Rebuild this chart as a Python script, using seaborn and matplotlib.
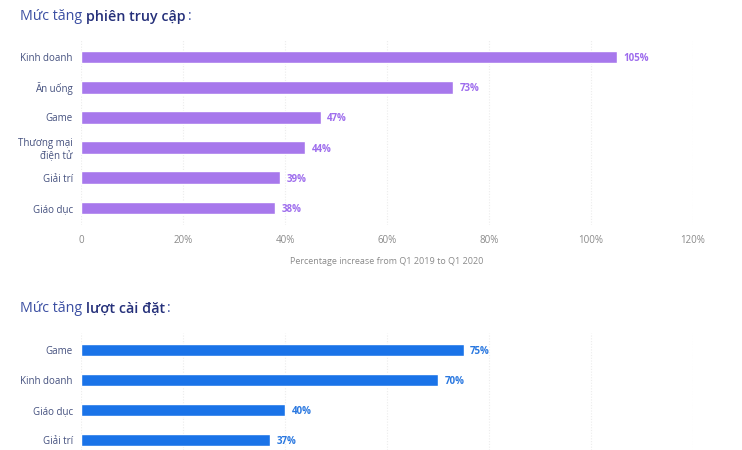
import matplotlib
matplotlib.use("Agg")
import matplotlib.pyplot as plt
import seaborn as sns
import pandas as pd

sns.set_style("white")
plt.rcParams['font.family'] = ['Open Sans', 'DejaVu Sans']

# Data
sessions_categories = ["Kinh doanh", "Ăn uống", "Game", "Thương mại\nđiện tử", "Giải trí", "Giáo dục"]
sessions_values = [105, 73, 47, 44, 39, 38]
installs_categories = ["Game", "Kinh doanh", "Giáo dục", "Giải trí"]
installs_values = [75, 70, 40, 37]
x_ticks = [0, 20, 40, 60, 80, 100, 120]
x_tick_labels = ["0", "20%", "40%", "60%", "80%", "100%", "120%"]
x_label = "Percentage increase from Q1 2019 to Q1 2020"
title1_a, title1_b = "Mức tăng", "phiên truy cập"
title2_a, title2_b = "Mức tăng", "lượt cài đặt"

PURPLE = "#a778ec"
PURPLE_TXT = "#9e6ded"
BLUE = "#1a73e8"
BLUE_TXT = "#2a78e0"
TITLE_C = "#3a4ea2"
TITLE_B = "#25307a"
YLAB_C = "#44507e"
XLAB_C = "#8a8a8a"

W, H = 742, 450
fig = plt.figure(figsize=(W / 100, H / 100), dpi=100)

def px_axes(left, top, right, bottom):
    return fig.add_axes([left / W, 1 - bottom / H, (right - left) / W, (bottom - top) / H])

ax1 = px_axes(81, 40, 693, 225)
ax2 = px_axes(81, 333, 693, 450)

def draw(ax, cats, vals, color, txtc, ylim_bottom):
    df = pd.DataFrame({"cat": cats, "val": vals})
    sns.barplot(data=df, x="val", y="cat", ax=ax, color=color, saturation=1,
                width=0.42, orient="h")
    ax.set_xlim(0, 120)
    ax.set_ylim(ylim_bottom, -0.56)
    ax.set_xticks(x_ticks)
    ax.grid(axis="x", color="#ececec", linewidth=0.8, linestyle=(0, (1, 1.5)))
    ax.set_axisbelow(True)
    for s in ax.spines.values():
        s.set_visible(False)
    ax.set_ylabel("")
    ax.set_xlabel("")
    ax.tick_params(axis="y", length=0, pad=6, labelsize=7, labelcolor=YLAB_C)
    for lbl in ax.get_yticklabels():
        lbl.set_horizontalalignment("right")
        lbl.set_multialignment("right")
    for i, v in enumerate(vals):
        ax.text(v + 1.3, i + 0.05, f"{v}%", va="center", ha="left", fontsize=7,
                fontweight="bold", color=txtc)

draw(ax1, sessions_categories, sessions_values, PURPLE, PURPLE_TXT, 5.56)
draw(ax2, installs_categories, installs_values, BLUE, BLUE_TXT, 3.33)

ax1.set_xticklabels(x_tick_labels)
ax1.tick_params(axis="x", length=0, pad=7, labelsize=7, labelcolor=XLAB_C)
ax1.set_xlabel(x_label, fontsize=6.5, color=XLAB_C, labelpad=8)
ax2.tick_params(axis="x", length=0, labelbottom=False)

TS = 10.3

def title(x_px, y_px, a, b):
    renderer = fig.canvas.get_renderer()
    t1 = fig.text(x_px / W, 1 - y_px / H, a, fontsize=TS, color=TITLE_C,
                  va="center", ha="left")
    bb = t1.get_window_extent(renderer=renderer)
    t2 = fig.text((bb.x1 + 4) / W, 1 - y_px / H, b, fontsize=TS, color=TITLE_B,
                  fontweight="semibold", va="center", ha="left")
    bb2 = t2.get_window_extent(renderer=renderer)
    fig.text((bb2.x1 + 2) / W, 1 - y_px / H, ":", fontsize=TS, color=TITLE_C,
             va="center", ha="left")

fig.canvas.draw()
title(20, 17, title1_a, title1_b)
title(20, 309, title2_a, title2_b)

fig.savefig("out.png", dpi=100)
